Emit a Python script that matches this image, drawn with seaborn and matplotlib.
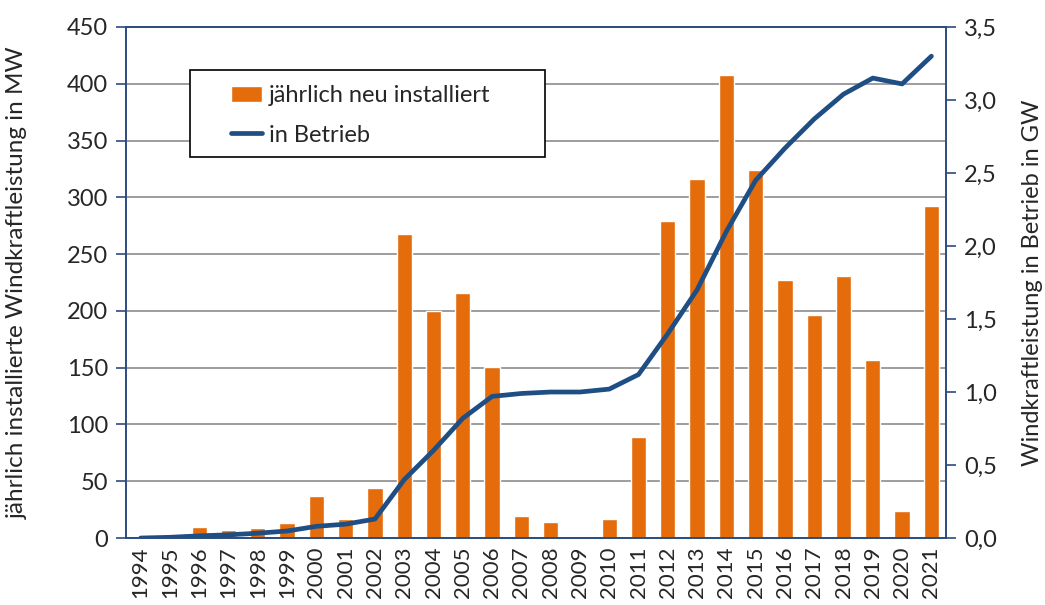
import numpy as np
import pandas as pd
import matplotlib
matplotlib.use("Agg")
import matplotlib.pyplot as plt
from matplotlib.patches import Rectangle
from matplotlib.ticker import FuncFormatter, MultipleLocator
import seaborn as sns

# data
years = [str(y) for y in range(1994, 2022)]
new_mw = [0, 0, 10, 7, 9, 13, 37, 17, 44, 268, 200, 216, 151, 19, 14, 0,
          17, 89, 279, 316, 408, 324, 227, 196, 231, 157, 24, 292]
total_gw = [0.0, 0.005, 0.015, 0.022, 0.033, 0.048, 0.08, 0.095, 0.13, 0.40,
            0.60, 0.82, 0.97, 0.99, 1.0, 1.0, 1.02, 1.12, 1.40, 1.70, 2.10,
            2.45, 2.67, 2.87, 3.04, 3.15, 3.11, 3.30]

df = pd.DataFrame({"Jahr": years, "neu": new_mw, "gesamt": total_gw})
df["pos"] = np.arange(len(df))

sns.set_style("white")
plt.rcParams['font.family'] = ['Lato', 'DejaVu Sans']

orange = "#E46C0A"
blue = "#1F4E85"
spine_col = "#2B4C7E"

fig = plt.figure(figsize=(10.45, 6.05), dpi=100)
ax = fig.add_axes([0.1206, 0.1107, 0.7847, 0.8447])

sns.barplot(data=df, x="Jahr", y="neu", color=orange, width=0.52,
            saturation=1, ax=ax, label="jährlich neu installiert", zorder=2)
ax.set_ylim(0, 450)
ax.yaxis.set_major_locator(MultipleLocator(50))
ax.set_xlim(-0.5, len(years) - 0.5)
ax.grid(axis="y", color="#8C8C8C", lw=1.2, zorder=0)
ax.set_axisbelow(True)
ax.set_xlabel("")
ax.set_ylabel("jährlich installierte Windkraftleistung in MW", fontsize=17.5, labelpad=28)

ax2 = ax.twinx()
sns.lineplot(data=df, x="pos", y="gesamt", color=blue, lw=3.4, ax=ax2,
             label="in Betrieb")
ax2.set_ylim(0, 3.5)
ax2.yaxis.set_major_locator(MultipleLocator(0.5))
ax2.yaxis.set_major_formatter(FuncFormatter(lambda v, p: f"{v:.1f}".replace(".", ",")))
ax2.set_xlabel("")
ax2.set_ylabel("Windkraftleistung in Betrieb in GW", fontsize=17, labelpad=18)
ax2.set_xlim(-0.5, len(years) - 0.5)

# ticks between categories like the original
ax.set_xticks(np.arange(len(years)))
ax.set_xticklabels(years, rotation=90, fontsize=16)
ax.set_xticks(np.arange(len(years) + 1) - 0.5, minor=True)
ax.tick_params(axis="x", which="major", length=0, pad=6)
ax.tick_params(axis="x", which="minor", length=8, width=1.2, color=spine_col, direction="out")
ax.tick_params(axis="y", length=7, width=1.2, color=spine_col, direction="out", labelsize=17, pad=6)
ax2.tick_params(axis="y", length=7, width=1.2, color=spine_col, direction="out", labelsize=17, pad=6)

for a in (ax, ax2):
    for s in a.spines.values():
        s.set_color(spine_col)
        s.set_linewidth(1.2)

if ax.get_legend():
    ax.get_legend().remove()
h1, l1 = ax.get_legend_handles_labels()
h2, l2 = ax2.get_legend_handles_labels()
ax2.get_legend().remove()

# legend box is wider than the entries, so frame drawn separately
box = Rectangle((0.078, 0.746), 0.433, 0.170, transform=ax2.transAxes,
                facecolor="white", edgecolor="black", lw=1.2, zorder=4)
ax2.add_patch(box)
leg = ax2.legend(h1 + h2, l1 + l2, loc="upper left", bbox_to_anchor=(0.128, 0.886),
                 frameon=False, fontsize=17, borderpad=0, labelspacing=0.78,
                 handlelength=1.3, handletextpad=0.3, borderaxespad=0)
leg.set_zorder(5)

fig.savefig("out.png", dpi=100)
